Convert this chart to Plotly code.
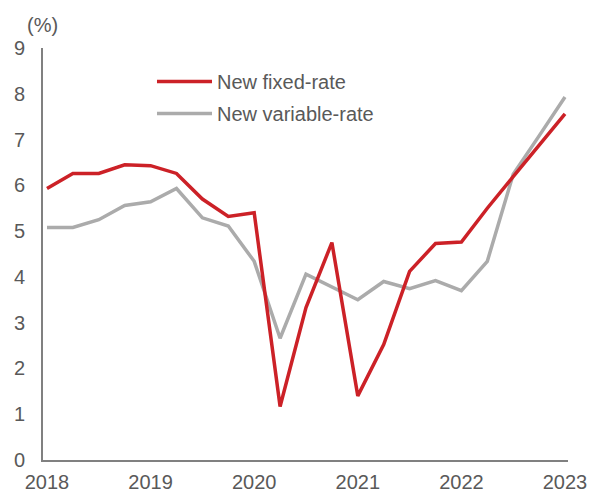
import plotly.graph_objects as go

# Quarterly data, 2018Q1 .. 2023Q1
quarters = list(range(21))
fixed_rate = [5.93, 6.26, 6.26, 6.45, 6.43, 6.26, 5.70, 5.32, 5.40, 1.17,
              3.33, 4.75, 1.40, 2.52, 4.12, 4.73, 4.76, 5.50, 6.19, 6.88, 7.56]
variable_rate = [5.08, 5.08, 5.25, 5.56, 5.64, 5.93, 5.29, 5.11, 4.34, 2.66,
                 4.06, 3.78, 3.50, 3.90, 3.74, 3.92, 3.70, 4.34, 6.24, 7.08, 7.93]
tick_positions = [0, 4, 8, 12, 16, 20]
tick_labels = ["2018", "2019", "2020", "2021", "2022", "2023"]
y_ticks = list(range(10))

TEXT = "#595959"
FONT = "Liberation Sans, Arial, sans-serif"

fig = go.Figure()
fig.add_trace(go.Scatter(
    x=quarters, y=variable_rate, mode="lines", name="New variable-rate",
    line=dict(color="#ABABAB", width=3.5), legendrank=2, legendgroup="b"))
fig.add_trace(go.Scatter(
    x=quarters, y=fixed_rate, mode="lines", name="New fixed-rate",
    line=dict(color="#CC2127", width=3.5), legendrank=1, legendgroup="a"))

fig.update_layout(
    width=589, height=493,
    margin=dict(l=43, r=21, t=48, b=33, autoexpand=False),
    paper_bgcolor="white", plot_bgcolor="white",
    font=dict(family=FONT, size=20, color=TEXT),
    showlegend=True,
    legend=dict(x=0.2076, y=0.966, xanchor="left", yanchor="top",
                bgcolor="rgba(0,0,0,0)", font=dict(size=20, color=TEXT),
                tracegroupgap=3, itemwidth=55),
    xaxis=dict(range=[-0.154, 20.116], tickvals=tick_positions, ticktext=tick_labels,
               showgrid=False, zeroline=False, showline=True, linecolor="#808080",
               linewidth=2, ticks="", ticklabelstandoff=3, automargin=False),
    yaxis=dict(range=[0, 9], tickvals=y_ticks, showgrid=False, zeroline=False,
               showline=True, linecolor="#808080", linewidth=2, ticks="",
               ticklabelstandoff=12, automargin=False),
    annotations=[dict(text="(%)", xref="paper", yref="paper", x=-0.034, y=1.056,
                      xanchor="left", yanchor="middle", showarrow=False,
                      font=dict(size=20, color=TEXT))],
)

fig.write_html(
    "out.html",
    config={"displayModeBar": False},
    post_script="document.body.style.margin='0';document.body.style.overflow='hidden';",
)
